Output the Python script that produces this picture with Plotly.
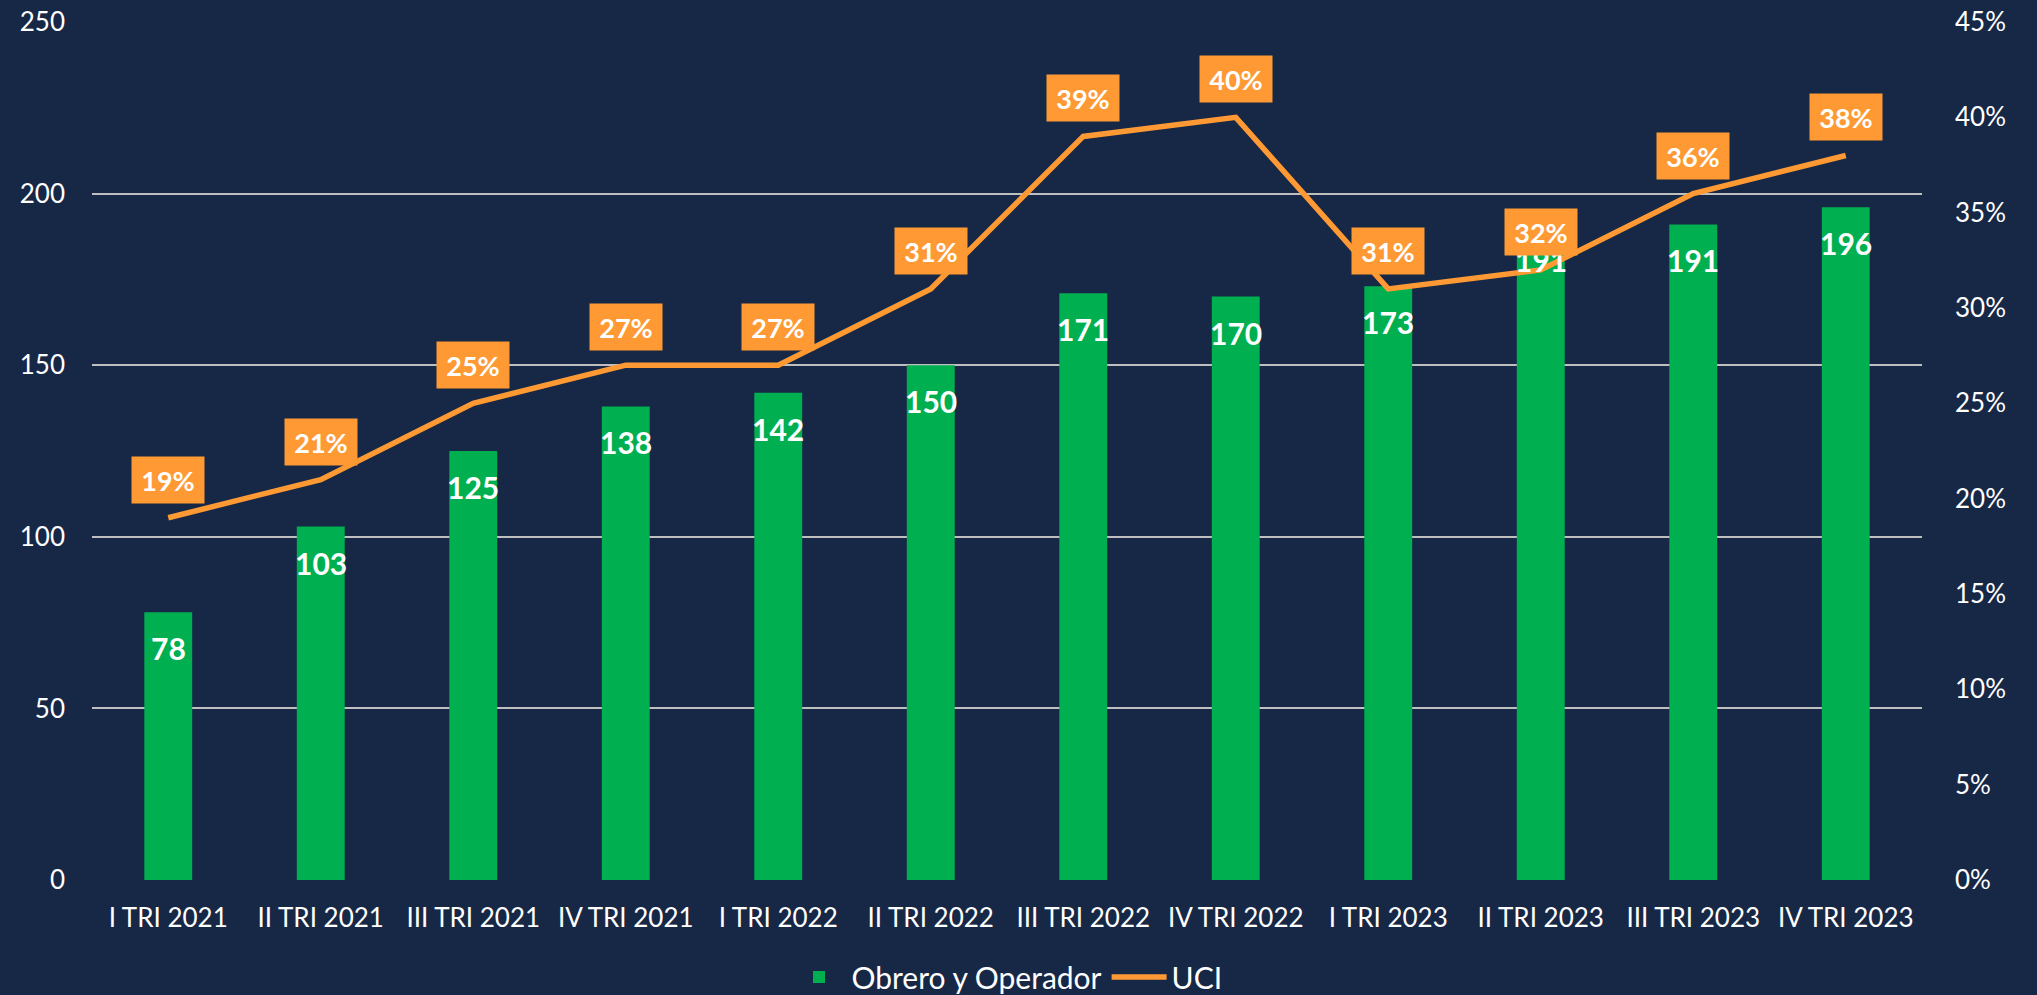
import plotly.graph_objects as go

categories = ["I TRI 2021", "II TRI 2021", "III TRI 2021", "IV TRI 2021",
              "I TRI 2022", "II TRI 2022", "III TRI 2022", "IV TRI 2022",
              "I TRI 2023", "II TRI 2023", "III TRI 2023", "IV TRI 2023"]
obrero = [78, 103, 125, 138, 142, 150, 171, 170, 173, 191, 191, 196]
uci = [0.19, 0.21, 0.25, 0.27, 0.27, 0.31, 0.39, 0.40, 0.31, 0.32, 0.36, 0.38]
left_ticks = [0, 50, 100, 150, 200, 250]
right_ticks = [0, 0.05, 0.10, 0.15, 0.20, 0.25, 0.30, 0.35, 0.40, 0.45]

BG = "#172846"
GREEN = "#00B050"
ORANGE = "#FF9933"
FONT = "Lato"

fig = go.Figure()
fig.add_trace(go.Bar(x=categories, y=obrero, name="Obrero y Operador",
                     marker=dict(color=GREEN, line=dict(width=0)), width=0.314))
fig.add_trace(go.Scatter(x=categories, y=uci, name="UCI", yaxis="y2", mode="lines",
                         line=dict(color=ORANGE, width=5.5)))

annotations = []
for c, v in zip(categories, obrero):
    annotations.append(dict(x=c, y=v, xref="x", yref="y", text=str(v), showarrow=False,
                            yanchor="middle", yshift=-36,
                            font=dict(family=FONT, size=30, color="white", weight="bold")))
for c, v in zip(categories, uci):
    annotations.append(dict(x=c, y=v, xref="x", yref="y2", text=f"{round(v*100)}%",
                            showarrow=False, yanchor="middle", yshift=38,
                            bgcolor=ORANGE, width=72, height=46, borderpad=0,
                            font=dict(family=FONT, size=27, color="white", weight="bold")))

fig.update_layout(
    width=2037, height=995,
    paper_bgcolor=BG, plot_bgcolor=BG,
    margin=dict(l=92, r=115, t=22, b=115, autoexpand=False),
    font=dict(family=FONT, size=26, color="white"),
    showlegend=True,
    legend=dict(orientation="h", x=0.5, xanchor="center", y=-0.113, yanchor="middle",
                font=dict(family=FONT, size=30, color="white"), bgcolor="rgba(0,0,0,0)",
                itemwidth=55),
    xaxis=dict(type="category", showgrid=False, showline=False, ticks="", automargin=False,
               ticklabelstandoff=20,
               tickfont=dict(family=FONT, size=26, color="white")),
    yaxis=dict(range=[0, 250], tickvals=left_ticks, showgrid=True, gridcolor="#BFBFBF",
               gridwidth=1.5, zeroline=False, showline=False, ticks="", automargin=False,
               ticklabelstandoff=26, tickfont=dict(family=FONT, size=26, color="white")),
    yaxis2=dict(range=[0, 0.45], tickvals=right_ticks, tickformat=".0%", overlaying="y",
                side="right", showgrid=False, zeroline=False, showline=False, ticks="",
                automargin=False,
                ticklabelstandoff=32, tickfont=dict(family=FONT, size=26, color="white")),
    annotations=annotations,
)

fig.write_html("out.html", config={"displayModeBar": False},
               post_script="document.body.style.margin='0';")
